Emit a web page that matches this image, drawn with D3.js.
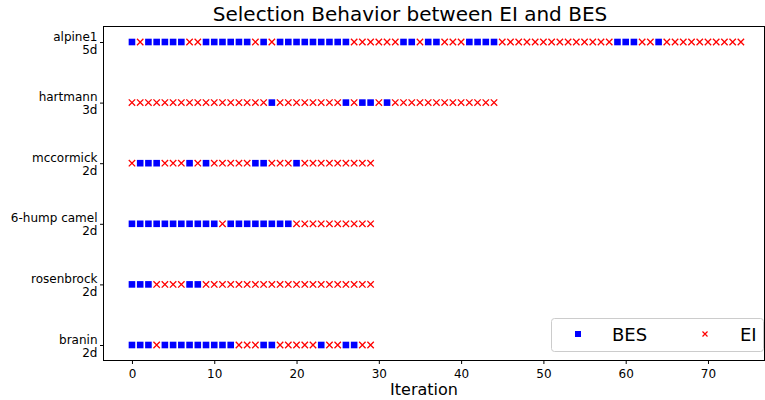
<!DOCTYPE html>
<html><head><meta charset="utf-8">
<script src="https://cdn.jsdelivr.net/npm/d3@7"></script>
<style>body{margin:0;background:#fff}svg{display:block}text{font-family:"DejaVu Sans",sans-serif}</style>
</head><body><svg id="c" width="765" height="400"></svg>
<script>
// Categories (top to bottom), two-line labels
const categories = ["alpine1\n5d", "hartmann\n3d", "mccormick\n2d", "6-hump camel\n2d", "rosenbrock\n2d", "branin\n2d"];
// Per-iteration selection: B = BES, E = EI
const alpine1    = "BEBBBBBEEBBBBBBEBEBBBBBBBBBEEEEEEBBEBBEEEBBBBEEEEEEEEEEEEEEBBBEEBEEEEEEEEEE".split("");
const hartmann   = "EEEEEEEEEEEEEEEEEBEEEEEEEEBEBBEBEEEEEEEEEEEEE".split("");
const mccormick  = "EBBBEEEBEBEEEEEBBEEEBEEEEEEEEE".split("");
const camel      = "BBBBBBBBBBBEBBBBBBBBEEEEEEEEEE".split("");
const rosenbrock = "BBBEEEEBBEEEEEEEEEEEEEEEEEEEEE".split("");
const branin     = "BBBEBBBBBBBBBEEEBBEEEEEBEEBBEE".split("");
const series = [alpine1, hartmann, mccormick, camel, rosenbrock, branin];
const xTicks = [0, 10, 20, 30, 40, 50, 60, 70];
const seriesNames = ["BES", "EI"];

const svg = d3.select("#c");
const L = 103, R = 765, T = 26, B = 360;
const x = d3.scaleLinear().domain([-3.52, 76.93]).range([L, R]);
const y = d3.scalePoint().domain(categories).range([42, 345]);

// points
const pts = [];
series.forEach((s, ci) => s.forEach((v, i) => pts.push({cat: categories[ci], i, v})));
const g = svg.append("g");
const sq = 6.6;
g.selectAll("rect.b").data(pts.filter(d => d.v === "B")).enter().append("rect")
  .attr("x", d => x(d.i) - sq/2).attr("y", d => y(d.cat) - sq/2)
  .attr("width", sq).attr("height", sq).attr("fill", "#0000ff");
const xs = 3.2;
const crossPath = (cx, cy) => `M${cx-xs},${cy-xs}L${cx+xs},${cy+xs}M${cx-xs},${cy+xs}L${cx+xs},${cy-xs}`;
g.selectAll("path.e").data(pts.filter(d => d.v === "E")).enter().append("path")
  .attr("d", d => crossPath(x(d.i), y(d.cat)))
  .attr("stroke", "#ff0000").attr("stroke-width", 1.3).attr("fill", "none");

// frame
svg.append("rect").attr("x", L + 0.5).attr("y", T + 0.5).attr("width", R - L - 1).attr("height", B - T)
  .attr("fill", "none").attr("stroke", "#000").attr("stroke-width", 1);

// x axis
const xa = svg.append("g").attr("transform", `translate(0,${B + 0.5})`)
  .call(d3.axisBottom(x).tickValues(xTicks).tickSize(3.5).tickSizeOuter(0));
xa.select(".domain").remove();
xa.selectAll("text").attr("font-size", 12).attr("fill", "#000").attr("dy", "0.9em");
xa.selectAll("line").attr("stroke", "#000");

// y axis
const ya = svg.append("g").attr("transform", `translate(${L + 0.5},0)`)
  .call(d3.axisLeft(y).tickSize(3.5).tickSizeOuter(0).tickFormat(""));
ya.select(".domain").remove();
ya.selectAll("line").attr("stroke", "#000");
ya.selectAll(".tick").each(function(d) {
  const lines = d.split("\n");
  const t = d3.select(this).append("text").attr("x", -6).attr("text-anchor", "end")
    .attr("font-size", 12).attr("fill", "#000");
  lines.forEach((ln, k) => t.append("tspan").attr("x", -6).attr("y", (k === 0 ? -6 : 7) + 4).text(ln));
});

// title and labels
svg.append("text").attr("x", 410).attr("y", 21).attr("text-anchor", "middle").attr("font-size", 20).text("Selection Behavior between EI and BES");
svg.append("text").attr("x", 424).attr("y", 395).attr("text-anchor", "middle").attr("font-size", 16).text("Iteration");

// legend
const lg = svg.append("g");
lg.append("rect").attr("x", 551.5).attr("y", 318.5).attr("width", 212).attr("height", 33).attr("rx", 3)
  .attr("fill", "#fff").attr("fill-opacity", 0.8).attr("stroke", "#ccc");
lg.append("rect").attr("x", 578 - 3).attr("y", 334 - 3).attr("width", 6).attr("height", 6).attr("fill", "#0000ff");
lg.append("text").attr("x", 612).attr("y", 341).attr("font-size", 18).text(seriesNames[0]);
lg.append("path").attr("d", `M${705-2.5},${334-2.5}L${705+2.5},${334+2.5}M${705-2.5},${334+2.5}L${705+2.5},${334-2.5}`)
  .attr("stroke", "#ff0000").attr("stroke-width", 1.2);
lg.append("text").attr("x", 740).attr("y", 341).attr("font-size", 18).text(seriesNames[1]);
</script></body></html>
